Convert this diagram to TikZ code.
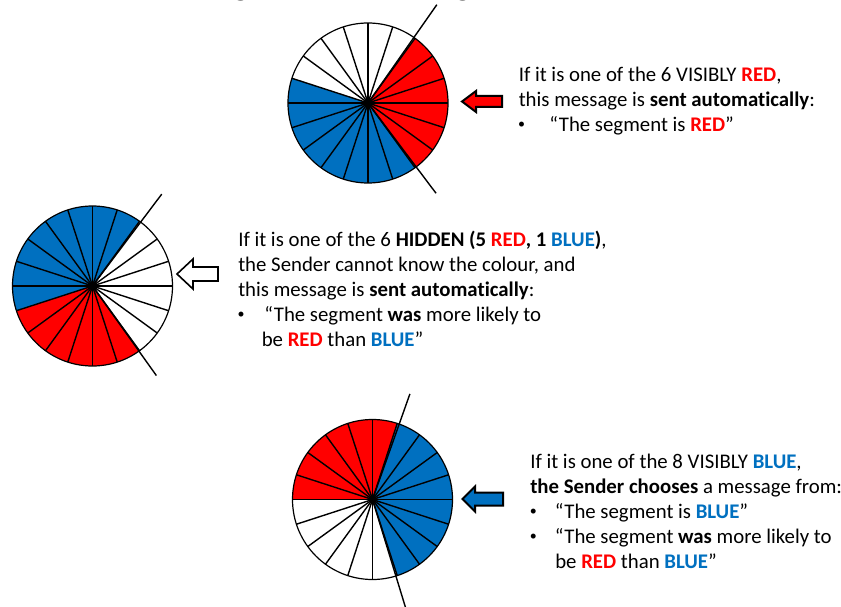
\documentclass[tikz,border=0pt]{standalone}
\usepackage{fontspec}
\setmainfont{Carlito}[Ligatures={NoCommon}]
\definecolor{redc}{HTML}{FF0000}
\definecolor{bluec}{HTML}{0070C0}
\begin{document}
\begin{tikzpicture}[x=0.75pt,y=0.75pt,
  spoke/.style={line width=1.05pt,black},
  rim/.style={line width=0.9pt,black},
  extline/.style={line width=1.05pt,black},
  arrowline/.style={line width=1.5pt,black,line join=miter},
  txt/.style={anchor=base west,inner sep=0pt,font=\fontsize{15.6}{18}\selectfont},
  bul/.style={anchor=base,inner sep=0pt,font=\fontsize{10.5}{12}\selectfont},
  ttl/.style={anchor=base,inner sep=0pt,font=\fontsize{24}{28}\selectfont\bfseries}]
\useasboundingbox (0,0) rectangle (841,-606);
\fill[white] (0,0) rectangle (841,-606);
\newcommand{\R}[1]{\textcolor{redc}{\textbf{#1}}}
\newcommand{\B}[1]{\textcolor{bluec}{\textbf{#1}}}
% cut-off title fragments
\node[ttl] (tg1) at (241,4) {g};
\node[ttl] (tg2) at (463,4) {g};
% ---------- wheel 1 (top) ----------
\begin{scope}[shift={(368,-103)}]
  \fill[redc] (0,0) -- (54:80) arc[start angle=54,end angle=-54,radius=80] -- cycle;
  \fill[bluec] (0,0) -- (162:80) arc[start angle=162,end angle=306,radius=80] -- cycle;
  \foreach \a in {0,18,...,342} \draw[spoke] (0,0) -- (\a:80);
  \draw[rim] (0,0) circle[radius=80];
  \draw[extline] (0,0) -- (55:120);
  \draw[extline] (0,0) -- (-53:113);
  \fill (0,0) circle[radius=4];
\end{scope}
% ---------- wheel 2 (middle) ----------
\begin{scope}[shift={(92.5,-286)}]
  \fill[bluec] (0,0) -- (54:80) arc[start angle=54,end angle=198,radius=80] -- cycle;
  \fill[redc] (0,0) -- (198:80) arc[start angle=198,end angle=306,radius=80] -- cycle;
  \foreach \a in {0,18,...,342} \draw[spoke] (0,0) -- (\a:80);
  \draw[rim] (0,0) circle[radius=80];
  \draw[extline] (0,0) -- (53:115);
  \draw[extline] (0,0) -- (-54.5:110);
  \fill (0,0) circle[radius=4];
\end{scope}
% ---------- wheel 3 (bottom) ----------
\begin{scope}[shift={(372.5,-499.5)}]
  \fill[redc] (0,0) -- (72:80) arc[start angle=72,end angle=180,radius=80] -- cycle;
  \fill[bluec] (0,0) -- (-72:80) arc[start angle=-72,end angle=72,radius=80] -- cycle;
  \foreach \a in {0,18,...,342} \draw[spoke] (0,0) -- (\a:80);
  \draw[rim] (0,0) circle[radius=80];
  \draw[extline] (0,0) -- (70.5:112);
  \draw[extline] (0,0) -- (-73:115);
  \fill (0,0) circle[radius=4];
\end{scope}
% ---------- arrows ----------
\draw[arrowline,fill=redc] (462,-101.5) -- (476,-91) -- (476,-96) -- (502,-96) -- (502,-107) -- (476,-107) -- (476,-112) -- cycle;
\draw[arrowline,line width=1.2pt,fill=white] (177,-274) -- (193,-259) -- (193,-267) -- (218,-267) -- (218,-281) -- (193,-281) -- (193,-289) -- cycle;
\draw[arrowline,fill=bluec] (462.5,-499) -- (475,-486.5) -- (475,-492.5) -- (503,-492.5) -- (503,-505.5) -- (475,-505.5) -- (475,-511.5) -- cycle;
% ---------- text block 1 ----------
\node[txt] (a1) at (518.5,-81.5) {If it is one of the 6 VISIBLY \R{RED},};
\node[txt] (a2) at (518.5,-106.5) {this message is \textbf{sent automatically}:};
\node[bul] (a3b) at (521.7,-128.5) {•};
\node[txt] (a3) at (549,-131.5) {“The segment is \R{RED}”};
% ---------- text block 2 ----------
\node[txt] (b1) at (238,-246.7) {If it is one of the 6 \textbf{HIDDEN (5 \R{RED}, 1 \B{BLUE})},};
\node[txt] (b2) at (238,-271.7) {the Sender cannot know the colour, and};
\node[txt] (b3) at (238,-296.7) {this message is \textbf{sent automatically}:};
\node[bul] (b4b) at (241,-318.7) {•};
\node[txt] (b4) at (264,-321.7) {“The segment \textbf{was} more likely to};
\node[txt] (b5) at (261.5,-346.7) {be \R{RED} than \B{BLUE}”};
% ---------- text block 3 ----------
\node[txt] (c1) at (530,-468.3) {If it is one of the 8 VISIBLY \B{BLUE},};
\node[txt] (c2) at (530,-493.3) {\textbf{the Sender chooses} a message from:};
\node[bul] (c3b) at (533.3,-515.3) {•};
\node[txt] (c3) at (554.5,-518.3) {“The segment is \B{BLUE}”};
\node[bul] (c4b) at (533.3,-540.3) {•};
\node[txt] (c4) at (554.5,-543.3) {“The segment \textbf{was} more likely to};
\node[txt] (c5) at (555,-568.3) {be \R{RED} than \B{BLUE}”};
\end{tikzpicture}
\end{document}
